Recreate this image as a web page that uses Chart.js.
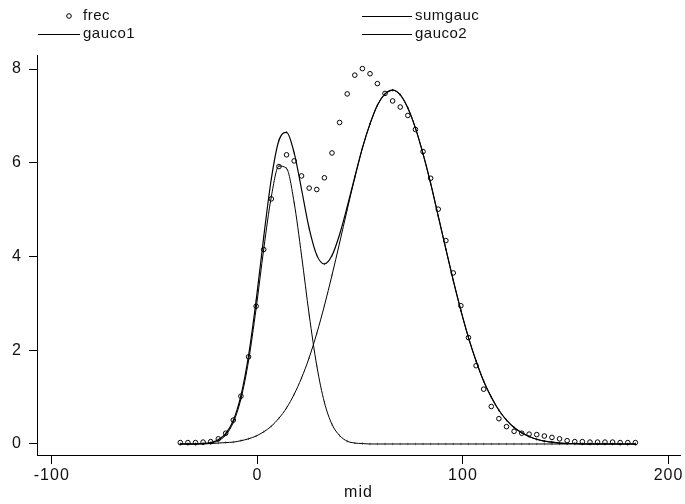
<!DOCTYPE html>
<html>
<head>
<meta charset="utf-8">
<script src="https://cdn.jsdelivr.net/npm/chart.js@4.4.0/dist/chart.umd.min.js"></script>
<style>
  html, body { margin: 0; padding: 0; background: #fff; }
  #wrap { width: 685px; height: 504px; }
</style>
</head>
<body>
<div id="wrap"><canvas id="c" width="685" height="504"></canvas></div>
<script>
// bin midpoints (x)
const midX = [-37.5, -33.8, -30.1, -26.4, -22.7, -19.0, -15.4, -11.7, -8.0, -4.3,
  -0.6, 3.1, 6.8, 10.5, 14.2, 17.9, 21.5, 25.2, 28.9, 32.6,
  36.3, 40.0, 43.7, 47.4, 51.1, 54.8, 58.4, 62.1, 65.8, 69.5,
  73.2, 76.9, 80.6, 84.3, 88.0, 91.7, 95.3, 99.0, 102.7, 106.4,
  110.1, 113.8, 117.5, 121.2, 124.9, 128.6, 132.2, 135.9, 139.6, 143.3,
  147.0, 150.7, 154.4, 158.1, 161.8, 165.5, 169.1, 172.8, 176.5, 180.2,
  183.9];

// observed frequencies (circles)
const frec = [0.03, 0.03, 0.03, 0.04, 0.05, 0.11, 0.23, 0.51, 1.02, 1.86,
  2.94, 4.15, 5.23, 5.92, 6.17, 6.04, 5.72, 5.46, 5.43, 5.68,
  6.21, 6.86, 7.47, 7.87, 8.01, 7.90, 7.69, 7.48, 7.32, 7.19,
  7.01, 6.71, 6.24, 5.67, 5.01, 4.34, 3.65, 2.95, 2.27, 1.67,
  1.17, 0.80, 0.54, 0.37, 0.27, 0.23, 0.21, 0.20, 0.17, 0.14,
  0.11, 0.07, 0.05, 0.05, 0.04, 0.04, 0.04, 0.04, 0.03, 0.03,
  0.03];

const gauco1 = [0, 0, 0, 0.01, 0.02, 0.07, 0.19, 0.46, 0.96, 1.77,
  2.89, 4.16, 5.28, 5.93, 5.88, 5.15, 4.02, 2.76, 1.67, 0.89,
  0.42, 0.18, 0.06, 0.02, 0.01, 0, 0, 0, 0, 0,
  0, 0, 0, 0, 0, 0, 0, 0, 0, 0,
  0, 0, 0, 0, 0, 0, 0, 0, 0, 0,
  0, 0, 0, 0, 0, 0, 0, 0, 0, 0,
  0];

const gauco2 = [0, 0, 0, 0, 0.01, 0.02, 0.03, 0.04, 0.07, 0.11,
  0.17, 0.26, 0.38, 0.55, 0.77, 1.06, 1.41, 1.84, 2.36, 2.95,
  3.60, 4.29, 5.00, 5.68, 6.31, 6.83, 7.23, 7.47, 7.55, 7.45,
  7.17, 6.74, 6.19, 5.56, 4.86, 4.16, 3.49, 2.85, 2.27, 1.77,
  1.34, 1.00, 0.72, 0.51, 0.35, 0.24, 0.16, 0.10, 0.06, 0.04,
  0.02, 0.01, 0.01, 0, 0, 0, 0, 0, 0, 0,
  0];

const sumgauc = [0, 0, 0, 0.01, 0.03, 0.09, 0.22, 0.50, 1.03, 1.88,
  3.06, 4.42, 5.66, 6.48, 6.65, 6.21, 5.43, 4.60, 4.03, 3.84,
  4.02, 4.47, 5.06, 5.70, 6.32, 6.83, 7.23, 7.47, 7.55, 7.45,
  7.17, 6.74, 6.19, 5.56, 4.86, 4.16, 3.49, 2.85, 2.27, 1.77,
  1.34, 1.00, 0.72, 0.51, 0.35, 0.24, 0.16, 0.10, 0.06, 0.04,
  0.02, 0.01, 0.01, 0, 0, 0, 0, 0, 0, 0,
  0];

const xTicks = [-100, 0, 100, 200];
const yTicks = [0, 2, 4, 6, 8];

const FONT = '"Liberation Sans", Arial, sans-serif';
const INK = '#111';

const toPoints = ys => midX.map((x, i) => ({ x: x, y: ys[i] }));

// stata style legend: two columns, two rows above the plot
const legendPlugin = {
  id: 'stataLegend',
  beforeDraw(chart) {
    chart.ctx.letterSpacing = '1px';
  },
  afterDraw(chart) {
    const ctx = chart.ctx;
    const items = [
      { label: chart.data.datasets[0].label, kind: 'dot', x0: 62, x1: 76, tx: 83, y: 16 },
      { label: chart.data.datasets[1].label, kind: 'line', x0: 362, x1: 412, tx: 415, y: 16 },
      { label: chart.data.datasets[2].label, kind: 'line', x0: 38, x1: 80, tx: 83, y: 34 },
      { label: chart.data.datasets[3].label, kind: 'line', x0: 362, x1: 412, tx: 415, y: 34 }
    ];
    ctx.save();
    ctx.letterSpacing = '0.5px';
    ctx.strokeStyle = '#000';
    ctx.lineWidth = 1;
    items.forEach(it => {
      if (it.kind === 'dot') {
        ctx.beginPath();
        ctx.arc((it.x0 + it.x1) / 2, it.y, 2.3, 0, Math.PI * 2);
        ctx.stroke();
      } else {
        ctx.beginPath();
        ctx.moveTo(it.x0, it.y + 0.5);
        ctx.lineTo(it.x1, it.y + 0.5);
        ctx.stroke();
      }
      ctx.fillStyle = INK;
      ctx.font = '15px ' + FONT;
      ctx.textBaseline = 'middle';
      ctx.textAlign = 'left';
      ctx.fillText(it.label, it.tx, it.y);
    });
    ctx.restore();
  }
};

const lineSet = (label, ys, width) => ({
  label: label,
  data: toPoints(ys),
  showLine: true,
  borderColor: '#000',
  borderWidth: width,
  cubicInterpolationMode: 'monotone',
  pointRadius: 1.2,
  pointStyle: 'line',
  rotation: 90,
  pointBorderColor: 'rgba(0,0,0,0.5)',
  pointBorderWidth: 1
});

new Chart(document.getElementById('c').getContext('2d'), {
  type: 'scatter',
  data: {
    datasets: [
      {
        label: 'frec',
        data: toPoints(frec),
        showLine: false,
        pointStyle: 'circle',
        pointRadius: 2.3,
        pointBorderWidth: 1,
        pointBorderColor: '#000',
        pointBackgroundColor: 'rgba(255,255,255,0)'
      },
      lineSet('sumgauc', sumgauc, 1.2),
      lineSet('gauco1', gauco1, 1),
      lineSet('gauco2', gauco2, 1)
    ]
  },
  options: {
    responsive: false,
    animation: false,
    layout: { padding: { top: 55, right: 2, left: 0, bottom: 0 } },
    plugins: {
      legend: { display: false },
      tooltip: { enabled: false }
    },
    scales: {
      x: {
        type: 'linear',
        min: -107.2,
        max: 205.6,
        afterFit: s => { s.height = 49; },
        afterBuildTicks: s => { s.ticks = xTicks.map(v => ({ value: v })); },
        grid: { drawOnChartArea: false, tickLength: 9, color: '#000' },
        border: { color: '#000', width: 1 },
        ticks: {
          color: INK,
          font: { family: FONT, size: 16 },
          padding: 2,
          maxRotation: 0,
          autoSkip: false
        },
        title: {
          display: true,
          text: 'mid',
          color: INK,
          font: { family: FONT, size: 16 },
          padding: { top: 0, bottom: 2 }
        }
      },
      y: {
        type: 'linear',
        min: -0.235,
        max: 8.3,
        afterFit: s => { s.width = 37; },
        afterBuildTicks: s => { s.ticks = yTicks.map(v => ({ value: v })); },
        grid: { drawOnChartArea: false, tickLength: 8, color: '#000' },
        border: { color: '#000', width: 1 },
        ticks: {
          color: INK,
          font: { family: FONT, size: 16 },
          padding: 7
        }
      }
    }
  },
  plugins: [legendPlugin]
});
</script>
</body>
</html>
